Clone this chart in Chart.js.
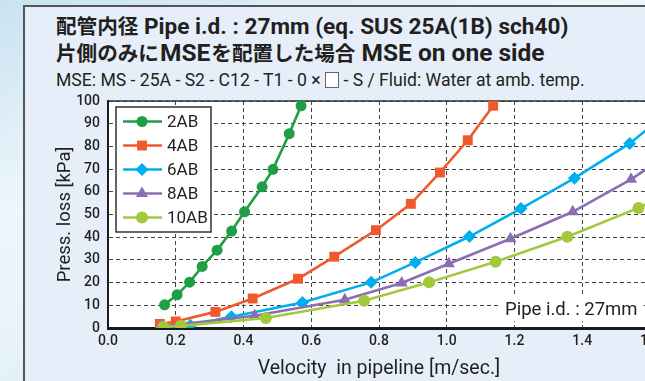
<!DOCTYPE html>
<html><head><meta charset="utf-8">
<script src="https://cdn.jsdelivr.net/npm/chart.js@4.4.0/dist/chart.umd.min.js"></script>
<style>
html,body{margin:0;padding:0;width:645px;height:381px;overflow:hidden;}
body{position:relative;background:linear-gradient(160deg,#c9e3f1 0%,#eef6fc 35%,#d8eaf6 100%);font-family:Roboto,"Noto Sans CJK JP",sans-serif;color:#231f20;}
#panel{position:absolute;left:23px;top:5px;width:700px;height:420px;background:#e6eff9;border-left:2px solid #555;border-top:2px solid #555;}
.t{position:absolute;left:56px;white-space:nowrap;line-height:1;}
#t1{top:15px;font-weight:bold;font-size:22.6px;}
#t2{top:41px;font-weight:bold;font-size:24.5px;}
#t3{top:72px;font-size:17.6px;}
.j{font-family:"Noto Sans CJK JP",sans-serif;font-size:20.6px;}
.m{padding:0 1px;}
.box{display:inline-block;width:12px;height:14px;background:#fff;border:1px solid #666;vertical-align:-2px;}
#wrap{position:absolute;left:0;top:0;width:680px;height:381px;}
</style></head>
<body>
<div id="panel"></div>
<div class="t" id="t1"><span class="j">配管内径</span> Pipe i.d. : 27mm (eq. SUS 25A(1B) sch40)</div>
<div class="t" id="t2"><span class="j">片側のみに</span><span class="m">MSE</span><span class="j">を配置した場合</span> MSE on one side</div>
<div class="t" id="t3">MSE: MS - 25A - S2 - C12 - T1 - 0 × <span class="box"></span> - S / Fluid: Water at amb. temp.</div>
<div id="wrap"><canvas id="c"></canvas></div>
<script>
const seriesNames = ['2AB','4AB','6AB','8AB','10AB'];
const vel2AB = [0.167,0.204,0.241,0.278,0.322,0.365,0.403,0.455,0.487,0.535,0.570];
const dp2AB  = [10.2,14.6,20.2,27.1,34.3,42.7,51.2,62.2,69.9,85.6,97.9];
const vel4AB = [0.153,0.200,0.317,0.427,0.561,0.668,0.791,0.894,0.980,1.062,1.137];
const dp4AB  = [1.8,2.9,7.1,13.0,21.7,31.4,43.1,54.7,68.5,82.7,97.9];
const vel6AB = [0.160,0.243,0.364,0.574,0.777,0.907,1.067,1.219,1.377,1.540,1.700];
const dp6AB  = [0.6,1.2,5.0,11.2,20.1,28.9,40.3,52.6,66.0,81.3,100.5];
const vel8AB = [0.155,0.433,0.699,0.867,1.006,1.188,1.372,1.544,1.720];
const dp8AB  = [0.6,5.4,12.4,19.8,28.3,39.3,51.2,65.5,83.0];
const vel10AB = [0.163,0.215,0.466,0.756,0.948,1.144,1.356,1.566,1.780];
const dp10AB  = [0.45,0.95,4.4,12.0,20.1,29.2,40.2,52.9,68.0];
const xTicks = [0.0,0.2,0.4,0.6,0.8,1.0,1.2,1.4,1.6];
const yTicks = [0,10,20,30,40,50,60,70,80,90,100];

const colors = ['#1f9e45','#f0592b','#00aeef','#8a6db3','#a2c93c'];
const styles = ['circle','rect','rectRot','triangle','circle'];
const radii = [5.5,7,6.5,7,6];
const vels = [vel2AB,vel4AB,vel6AB,vel8AB,vel10AB];
const dps = [dp2AB,dp4AB,dp6AB,dp8AB,dp10AB];

const datasets = seriesNames.map((n,i)=>({
  label:n,
  data: vels[i].map((v,j)=>({x:v,y:dps[i][j]})),
  borderColor:colors[i], backgroundColor:colors[i],
  pointBackgroundColor:colors[i], pointBorderColor:colors[i],
  pointStyle:styles[i], pointRadius:radii[i], pointBorderWidth:0,
  borderWidth:2.6, tension:0, order:5-i
}));

const TXT = '#231f20';
function drawMarker(ctx, style, r, x, y, color){
  ctx.save();
  ctx.fillStyle=color;
  ctx.beginPath();
  if(style==='circle'){ctx.arc(x,y,r,0,Math.PI*2);}
  else if(style==='rect'){const s=r*Math.SQRT1_2;ctx.rect(x-s,y-s,2*s,2*s);}
  else if(style==='rectRot'){ctx.moveTo(x,y-r);ctx.lineTo(x+r,y);ctx.lineTo(x,y+r);ctx.lineTo(x-r,y);ctx.closePath();}
  else if(style==='triangle'){ctx.moveTo(x,y-r);ctx.lineTo(x+r*0.866,y+r*0.5);ctx.lineTo(x-r*0.866,y+r*0.5);ctx.closePath();}
  ctx.fill();
  ctx.restore();
}

const deco = {
  id:'deco',
  beforeDraw(chart){
    const {ctx, chartArea:a} = chart;
    ctx.save(); ctx.fillStyle='#fff'; ctx.fillRect(a.left,a.top,a.right-a.left,a.bottom-a.top); ctx.restore();
  },
  beforeDatasetsDraw(chart){
    const {ctx, chartArea:a} = chart;
    ctx.save();
    ctx.font='18.5px Roboto, sans-serif';
    const txt='Pipe i.d. : 27mm';
    const w=ctx.measureText(txt).width;
    ctx.fillStyle='#fff';
    ctx.fillRect(501,297,w+10,24);
    ctx.fillStyle=TXT; ctx.textBaseline='middle'; ctx.textAlign='left';
    ctx.fillText(txt,505,310);
    ctx.strokeStyle='#333'; ctx.lineWidth=1.5;
    ctx.beginPath(); ctx.moveTo(a.left,a.top); ctx.lineTo(a.right,a.top); ctx.lineTo(a.right,a.bottom); ctx.stroke();
    ctx.restore();
  },
  afterDatasetsDraw(chart){
    const {ctx} = chart;
    ctx.save();
    const bx=116, by=107, bw=95, bh=125;
    ctx.fillStyle='#fff'; ctx.fillRect(bx,by,bw,bh);
    ctx.strokeStyle='#333'; ctx.lineWidth=1.5; ctx.strokeRect(bx,by,bw,bh);
    ctx.font='17px Roboto, sans-serif'; ctx.textBaseline='middle'; ctx.textAlign='left';
    chart.data.datasets.forEach((d,i)=>{
      const y=121.5+i*24;
      ctx.strokeStyle=d.borderColor; ctx.lineWidth=2.6;
      ctx.beginPath(); ctx.moveTo(123,y); ctx.lineTo(162,y); ctx.stroke();
      drawMarker(ctx,d.pointStyle,d.pointRadius,142,y,d.borderColor);
      ctx.fillStyle=TXT; ctx.fillText(d.label,167,y+1);
    });
    ctx.restore();
  }
};

new Chart(document.getElementById('c'),{
  type:'line',
  data:{datasets},
  plugins:[deco],
  options:{
    responsive:true, maintainAspectRatio:false, animation:false,
    layout:{padding:{left:0,top:101,right:30,bottom:0}},
    plugins:{legend:{display:false},tooltip:{enabled:false}},
    elements:{line:{fill:false}},
    scales:{
      x:{type:'linear',min:0,max:1.6,
        afterBuildTicks(s){s.ticks=xTicks.map(v=>({value:v}));},
        afterFit(s){s.height=53;},
        ticks:{padding:5,color:TXT,font:{family:'Roboto',size:14,weight:'500'},callback:v=>v.toFixed(1),maxRotation:0,autoSkip:false},
        grid:{color:'#444',lineWidth:1,drawTicks:false},
        border:{display:true,color:'#1a1a1a',width:3,dash:[4,3]},
        title:{display:true,text:'Velocity  in pipeline [m/sec.]',color:TXT,font:{family:'Roboto',size:19.5},padding:{top:2,bottom:0}}
      },
      y:{type:'linear',min:0,max:100,
        afterBuildTicks(s){s.ticks=yTicks.map(v=>({value:v}));},
        afterFit(s){s.width=108;},
        ticks:{padding:8,color:TXT,font:{family:'Roboto',size:14,weight:'500'},autoSkip:false},
        grid:{color:'#444',lineWidth:1,drawTicks:false},
        border:{display:true,color:'#1a1a1a',width:2,dash:[4,3]},
        title:{display:true,text:'Press. loss [kPa]',color:TXT,font:{family:'Roboto',size:18.5},padding:{top:54,bottom:0}}
      }
    }
  }
});
</script>
</body></html>
